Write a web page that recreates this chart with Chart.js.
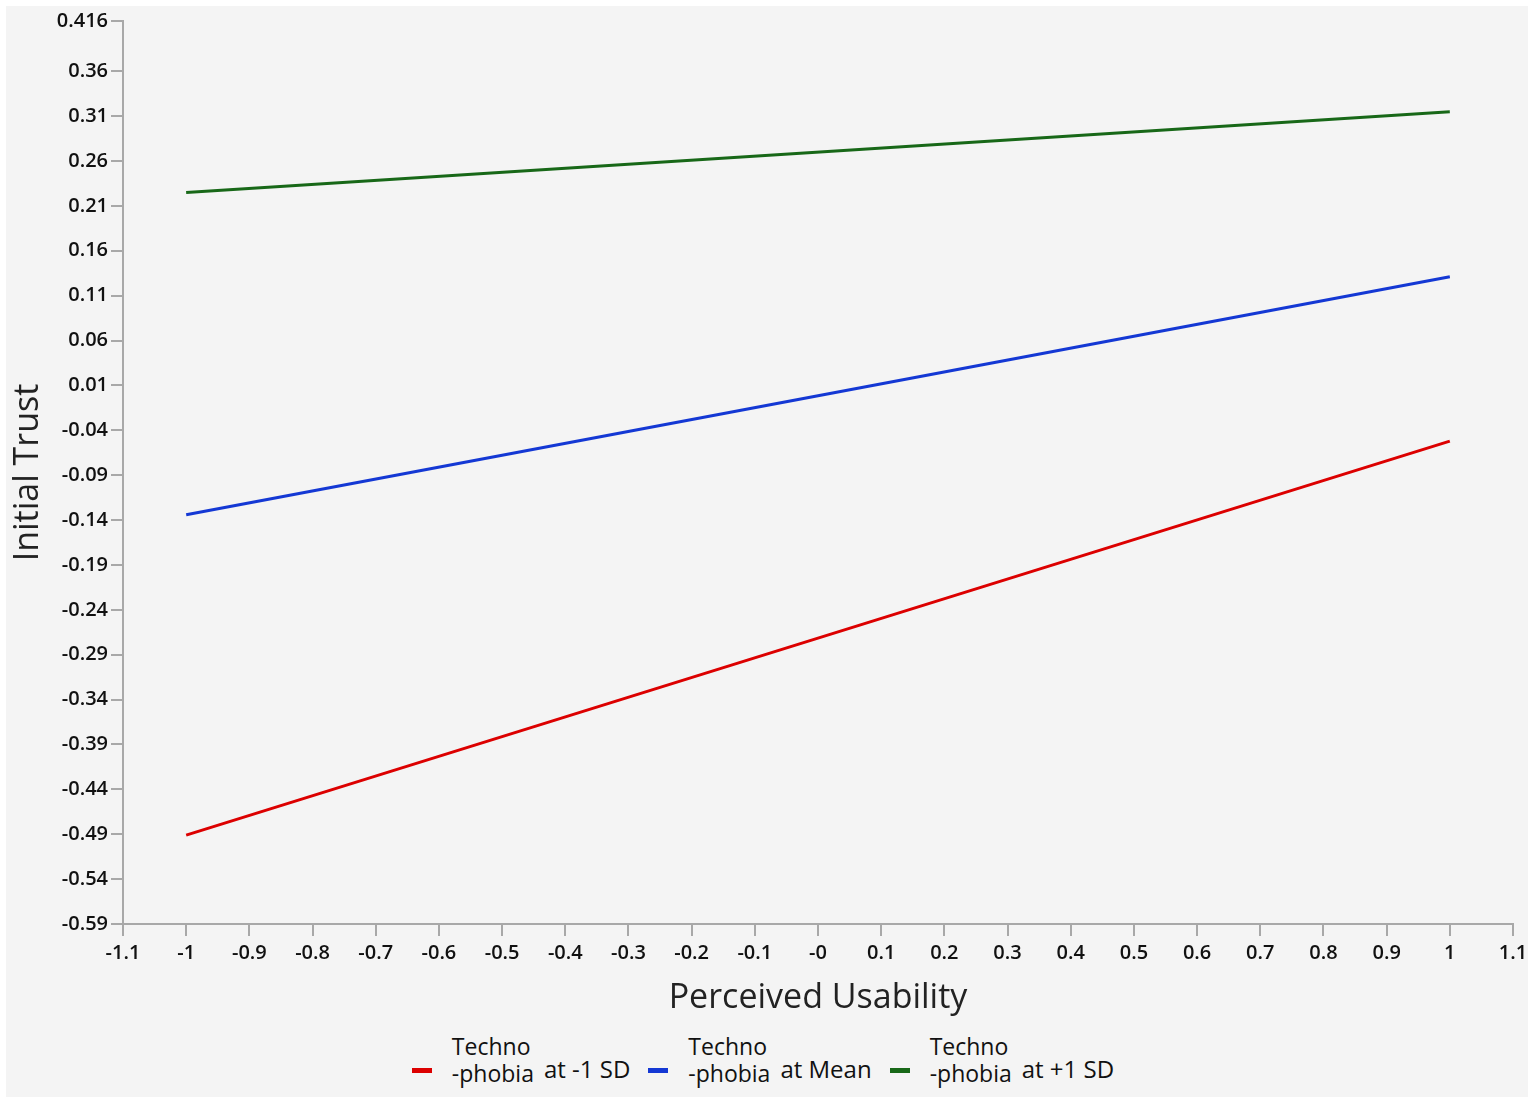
<!DOCTYPE html>
<html>
<head>
<meta charset="utf-8">
<script src="https://cdn.jsdelivr.net/npm/chart.js@4.4.1/dist/chart.umd.min.js"></script>
<style>
  body { margin: 0; background: #ffffff; }
  .panel {
    position: absolute; left: 6px; top: 6px;
    width: 1522px; height: 1091px;
    background: #f4f4f4;
  }
  .lienzo { position: relative; width: 1522px; height: 1030px; }
  .leyenda {
    display: flex; justify-content: center; align-items: flex-end;
    font-family: "Open Sans", sans-serif; font-size: 24px; color: #111;
    margin-left: 10px; margin-top: -3px;
  }
  .item { display: flex; align-items: flex-end; margin-right: 18px; }
  .muestra { width: 20px; height: 5px; margin: 0 20px 14px 0; }
  .partes { display: flex; flex-direction: column; line-height: 27px; margin-right: 10px; font-size: 23px; }
  .sufijo { line-height: 27px; margin-bottom: 5px; }
</style>
</head>
<body>
<div class="panel">
  <div class="lienzo"><canvas id="grafico"></canvas></div>
  <div class="leyenda" id="leyenda"></div>
</div>
<script>
// valores
const xValores = [-1, 1];
const serieBaja = [-0.491, -0.052];   // Technophobia at -1 SD
const serieMedia = [-0.134, 0.131];   // Technophobia at Mean
const serieAlta = [0.225, 0.315];     // Technophobia at +1 SD

const nombresArriba = ["Techno", "Techno", "Techno"];
const nombresAbajo = ["-phobia", "-phobia", "-phobia"];
const sufijos = ["at -1 SD", "at Mean", "at +1 SD"];
const colores = ["#dc0000", "#1438d4", "#186818"];

const xTicks = [-1.1, -1, -0.9, -0.8, -0.7, -0.6, -0.5, -0.4, -0.3, -0.2, -0.1, 0, 0.1, 0.2, 0.3, 0.4, 0.5, 0.6, 0.7, 0.8, 0.9, 1, 1.1];
const xEtiquetas = ["-1.1", "-1", "-0.9", "-0.8", "-0.7", "-0.6", "-0.5", "-0.4", "-0.3", "-0.2", "-0.1", "-0", "0.1", "0.2", "0.3", "0.4", "0.5", "0.6", "0.7", "0.8", "0.9", "1", "1.1"];
const yTicks = [0.416, 0.36, 0.31, 0.26, 0.21, 0.16, 0.11, 0.06, 0.01, -0.04, -0.09, -0.14, -0.19, -0.24, -0.29, -0.34, -0.39, -0.44, -0.49, -0.54, -0.59];
const yEtiquetas = ["0.416", "0.36", "0.31", "0.26", "0.21", "0.16", "0.11", "0.06", "0.01", "-0.04", "-0.09", "-0.14", "-0.19", "-0.24", "-0.29", "-0.34", "-0.39", "-0.44", "-0.49", "-0.54", "-0.59"];

const series = [serieBaja, serieMedia, serieAlta];
const gris = "#a8a8a8";
const fuenteTicks = { family: "Open Sans", size: 20, weight: "600" };

const datasets = series.map((s, i) => ({
  label: nombresArriba[i] + " " + nombresAbajo[i] + " " + sufijos[i],
  data: s.map((y, j) => ({ x: xValores[j], y: y })),
  borderColor: colores[i],
  backgroundColor: colores[i],
  borderWidth: 3,
  pointRadius: 0,
  fill: false
}));

const grafico = new Chart(document.getElementById("grafico"), {
  type: "line",
  data: { datasets: datasets },
  options: {
    responsive: true,
    maintainAspectRatio: false,
    animation: false,
    layout: { padding: { top: 15, right: 15, left: 0, bottom: 0 } },
    plugins: {
      legend: { display: false },
      tooltip: { enabled: false }
    },
    scales: {
      x: {
        type: "linear",
        min: -1.1,
        max: 1.1,
        afterBuildTicks: s => { s.ticks = xTicks.map(v => ({ value: v })); },
        afterFit: s => {
          s.height = 112;
          s.paddingLeft = 0;
          s.paddingRight = 0;
        },
        ticks: {
          autoSkip: false,
          maxRotation: 0,
          color: "#111",
          font: fuenteTicks,
          padding: 5,
          callback: (v, i) => xEtiquetas[i]
        },
        grid: { display: true, drawOnChartArea: false, drawTicks: true, tickLength: 12, color: gris, lineWidth: 2 },
        border: { display: true, color: gris, width: 2 },
        title: {
          display: true,
          text: "Perceived Usability",
          color: "#222",
          font: { family: "Open Sans", size: 34 },
          padding: { top: 0, bottom: 17 }
        }
      },
      y: {
        type: "linear",
        min: -0.59,
        max: 0.416,
        afterBuildTicks: s => { s.ticks = yTicks.map(v => ({ value: v })); },
        afterFit: s => {
          s.width = 117;
          s.paddingTop = 0;
          s.paddingBottom = 0;
        },
        ticks: {
          autoSkip: false,
          color: "#111",
          font: fuenteTicks,
          padding: 3,
          callback: (v, i) => yEtiquetas[i]
        },
        grid: { display: true, drawOnChartArea: false, drawTicks: true, tickLength: 12, color: gris, lineWidth: 2 },
        border: { display: true, color: gris, width: 2 },
        title: {
          display: true,
          text: "Initial Trust",
          color: "#222",
          font: { family: "Open Sans", size: 34 },
          padding: { top: 2, bottom: 0 }
        }
      }
    }
  }
});

// leyenda en HTML con la etiqueta partida en dos lineas
const leyenda = document.getElementById("leyenda");
grafico.data.datasets.forEach((ds, i) => {
  const item = document.createElement("div");
  item.className = "item";

  const muestra = document.createElement("div");
  muestra.className = "muestra";
  muestra.style.background = ds.borderColor;
  item.appendChild(muestra);

  const partes = document.createElement("div");
  partes.className = "partes";
  const arriba = document.createElement("span");
  arriba.textContent = nombresArriba[i];
  const abajo = document.createElement("span");
  abajo.textContent = nombresAbajo[i];
  partes.appendChild(arriba);
  partes.appendChild(abajo);
  item.appendChild(partes);

  const sufijo = document.createElement("span");
  sufijo.className = "sufijo";
  sufijo.textContent = sufijos[i];
  item.appendChild(sufijo);

  leyenda.appendChild(item);
});
</script>
</body>
</html>
